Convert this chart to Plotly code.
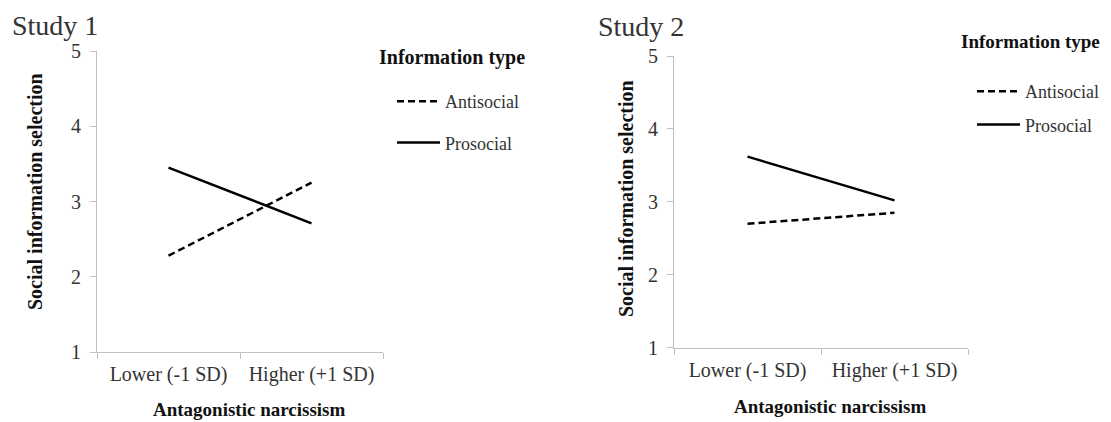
import plotly.graph_objects as go

categories = ["Lower (-1 SD)", "Higher (+1 SD)"]
study1_antisocial = [2.28, 3.25]
study1_prosocial = [3.45, 2.71]
study2_antisocial = [2.70, 2.85]
study2_prosocial = [3.62, 3.02]
y_ticks = [1, 2, 3, 4, 5]

SERIF = "Liberation Serif"
AX_GRAY = "#c0c0c0"
TXT = "#333333"

# the page body has an 8px margin; figure is sized to fit inside the window
OFF = 8
W, H = 1111 - OFF, 422 - OFF

def fx(px):
    return (px - OFF) / W

def fy(py):
    return 1 - (py - OFF) / H

fig = go.Figure()

def add_pair(anti, pro, xa, ya, legend):
    fig.add_trace(go.Scatter(x=categories, y=anti, mode="lines", name="Antisocial",
                             line=dict(color="black", width=2.5, dash="7px,4px"),
                             xaxis=xa, yaxis=ya, legend=legend, legendgroup=legend + "a"))
    fig.add_trace(go.Scatter(x=categories, y=pro, mode="lines", name="Prosocial",
                             line=dict(color="black", width=2.5),
                             xaxis=xa, yaxis=ya, legend=legend, legendgroup=legend + "p"))

add_pair(study1_antisocial, study1_prosocial, "x", "y", "legend")
add_pair(study2_antisocial, study2_prosocial, "x2", "y2", "legend2")

xcommon = dict(type="category", tickson="boundaries", ticks="outside", ticklen=6,
               tickcolor=AX_GRAY, showline=True, linecolor=AX_GRAY, linewidth=1,
               showgrid=False, zeroline=False, range=[-0.5, 1.5], automargin=False,
               ticklabelstandoff=4,
               tickfont=dict(family=SERIF, size=20, color=TXT))
ycommon = dict(range=[1, 5], tickvals=y_ticks, ticks="outside", ticklen=6,
               tickcolor=AX_GRAY, showline=True, linecolor=AX_GRAY, linewidth=1,
               showgrid=False, zeroline=False, automargin=False,
               ticklabelstandoff=5,
               tickfont=dict(family=SERIF, size=20, color=TXT))

legcommon = dict(font=dict(family=SERIF, size=18, color=TXT), itemwidth=43,
                 bgcolor="rgba(0,0,0,0)", xanchor="left", yanchor="top")

def ann(text, x, y, size, bold=False, angle=0, xanchor="center", color=TXT):
    return dict(text=f"<b>{text}</b>" if bold else text, x=x, y=y, xref="paper",
                yref="paper", xanchor=xanchor, yanchor="middle", textangle=angle,
                showarrow=False, font=dict(family=SERIF, size=size, color=color))

fig.update_layout(
    width=W, height=H,
    margin=dict(l=0, r=0, t=0, b=0, autoexpand=False),
    paper_bgcolor="white", plot_bgcolor="white",
    showlegend=True,
    xaxis=dict(domain=[fx(97), fx(383)], anchor="y", **xcommon),
    yaxis=dict(domain=[fy(352), fy(51)], anchor="x", **ycommon),
    xaxis2=dict(domain=[fx(674), fx(968)], anchor="y2", **xcommon),
    yaxis2=dict(domain=[fy(347.7), fy(56)], anchor="x2", **ycommon),
    legend=dict(x=fx(397 - 5), y=fy(83), tracegroupgap=15, **legcommon),
    legend2=dict(x=fx(977 - 5), y=fy(73), tracegroupgap=7, **legcommon),
    annotations=[
        ann("Study 1", fx(10), fy(26), 28, xanchor="left"),
        ann("Study 2", fx(596), fy(27), 28, xanchor="left"),
        ann("Information type", fx(452), fy(58), 20, bold=True, color="#111"),
        ann("Information type", fx(1031), fy(41), 19, bold=True, color="#111"),
        ann("Social information selection", fx(35), fy(192), 20, bold=True, angle=-90, color="#111"),
        ann("Social information selection", fx(626), fy(199), 20, bold=True, angle=-90, color="#111"),
        ann("Antagonistic narcissism", fx(249), fy(409), 19, bold=True, color="#111"),
        ann("Antagonistic narcissism", fx(830), fy(406), 19, bold=True, color="#111"),
    ],
)

fig.write_html("out.html")
